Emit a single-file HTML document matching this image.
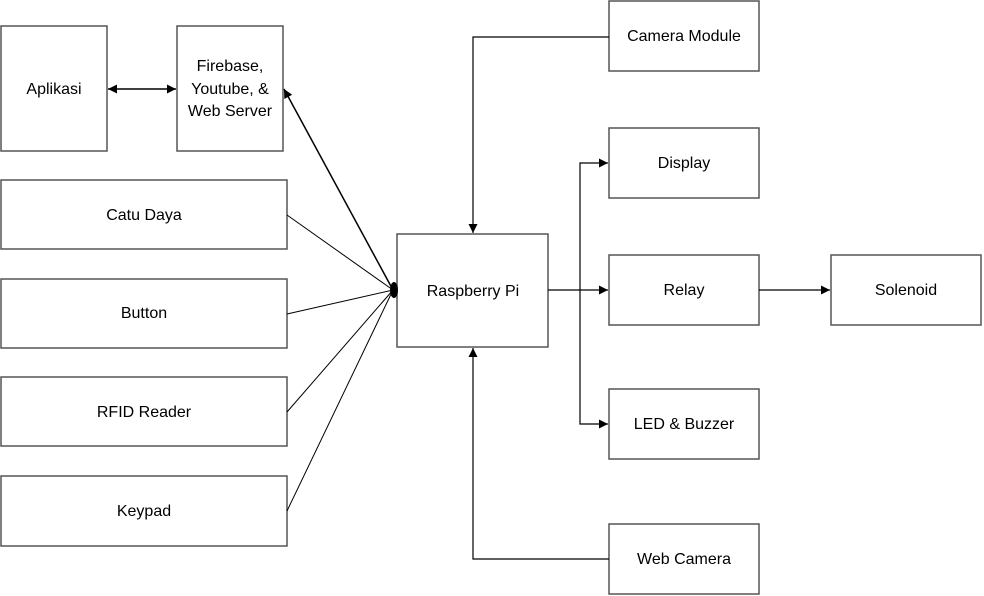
<!DOCTYPE html>
<html><head><meta charset="utf-8"><style>
html,body{margin:0;padding:0;background:#fff;}
svg{display:block}
text{font-family:"Liberation Sans",sans-serif;font-size:16px;fill:#000;text-anchor:middle;dominant-baseline:middle}
rect{fill:#fff;stroke:#555;stroke-width:1.5}
</style></head><body>
<svg width="984" height="596" viewBox="0 0 984 596">
<defs>
<marker id="a" viewBox="0 0 10 10" refX="10" refY="5" markerWidth="9" markerHeight="9" markerUnits="userSpaceOnUse" orient="auto-start-reverse"><path d="M0,0L10,5L0,10z" fill="#000"/></marker>
</defs>
<rect x="1" y="26" width="106" height="125"/><text x="54" y="90">Aplikasi</text>
<rect x="177" y="26" width="106" height="125"/>
<text x="230" y="67">Firebase,</text><text x="230" y="90">Youtube, &amp;</text><text x="230" y="112">Web Server</text>
<rect x="1" y="180" width="286" height="69"/><text x="144" y="216">Catu Daya</text>
<rect x="1" y="279" width="286" height="69"/><text x="144" y="314">Button</text>
<rect x="1" y="377" width="286" height="69"/><text x="144" y="413">RFID Reader</text>
<rect x="1" y="476" width="286" height="70"/><text x="144" y="512">Keypad</text>
<rect x="397" y="234" width="151" height="113"/><text x="473" y="292">Raspberry Pi</text>
<rect x="609" y="1" width="150" height="70"/><text x="684" y="37">Camera Module</text>
<rect x="609" y="128" width="150" height="70"/><text x="684" y="164">Display</text>
<rect x="609" y="255" width="150" height="70"/><text x="684" y="291">Relay</text>
<rect x="609" y="389" width="150" height="70"/><text x="684" y="425">LED &amp; Buzzer</text>
<rect x="609" y="524" width="150" height="70"/><text x="684" y="560">Web Camera</text>
<rect x="831" y="255" width="150" height="70"/><text x="906" y="291">Solenoid</text>
<g stroke="#000" fill="none">
<line x1="108" y1="89" x2="176" y2="89" stroke-width="1.5" marker-start="url(#a)" marker-end="url(#a)"/>
<line x1="393" y1="290" x2="284" y2="89" stroke-width="1.5" marker-end="url(#a)"/>
<line x1="287" y1="215" x2="393" y2="290"/>
<line x1="287" y1="314" x2="393" y2="290"/>
<line x1="287" y1="412" x2="393" y2="290"/>
<line x1="287" y1="511" x2="393" y2="290"/>
<polyline points="609,37 473,37 473,233" stroke-width="1.2" marker-end="url(#a)"/>
<polyline points="609,559 473,559 473,348" stroke-width="1.2" marker-end="url(#a)"/>
<line x1="548" y1="290" x2="608" y2="290" stroke-width="1.2" marker-end="url(#a)"/>
<polyline points="608,163 580,163 580,424 608,424" stroke-width="1.2"/>
<line x1="580" y1="163" x2="608" y2="163" marker-end="url(#a)"/>
<line x1="580" y1="424" x2="608" y2="424" marker-end="url(#a)"/>
<line x1="759" y1="290" x2="830" y2="290" stroke-width="1.2" marker-end="url(#a)"/>
</g>
<ellipse cx="394" cy="290" rx="4" ry="8" fill="#000"/>
</svg>
</body></html>
